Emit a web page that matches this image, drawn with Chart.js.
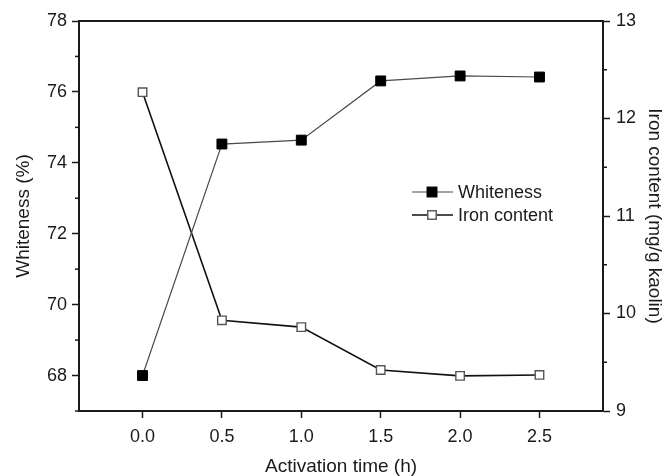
<!DOCTYPE html>
<html><head><meta charset="utf-8">
<script src="https://cdn.jsdelivr.net/npm/chart.js@4/dist/chart.umd.min.js"></script>
<style>html,body{margin:0;padding:0;background:#fff}#wrap{width:666px;height:476px}</style>
</head><body><div id="wrap"><canvas id="c" width="666" height="476"></canvas></div>
<script>
const activationTime = [0, 0.5, 1.0, 1.5, 2.0, 2.5];
const whiteness = [68.0, 74.53, 74.64, 76.31, 76.45, 76.42];
const ironContent = [12.27, 9.93, 9.86, 9.42, 9.36, 9.37];
const xTicks = [0, 0.5, 1.0, 1.5, 2.0, 2.5];
const leftTicks = [68, 70, 72, 74, 76, 78];
const leftMinorTicks = [67, 69, 71, 73, 75, 77];
const rightTicks = [9, 10, 11, 12, 13];
const rightMinorTicks = [9.5, 10.5, 11.5, 12.5];
const seriesNames = ['Whiteness', 'Iron content'];
const axisTitles = {x: 'Activation time (h)', y: 'Whiteness (%)', y1: 'Iron content (mg/g kaolin)'};

const FONT = "'Liberation Sans', Arial, Helvetica, sans-serif";
const INK = '#1a1a1a';

const frameAndMinor = {
  id: 'frameAndMinor',
  afterDraw(chart) {
    const ctx = chart.ctx, a = chart.chartArea;
    ctx.save();
    ctx.strokeStyle = INK;
    ctx.lineWidth = 2;
    ctx.beginPath();
    ctx.moveTo(a.left - 1, a.top);
    ctx.lineTo(a.right + 1, a.top);
    ctx.stroke();
    ctx.lineWidth = 1.5;
    const ys = chart.scales.y, y1 = chart.scales.y1;
    leftMinorTicks.forEach(v => {
      const p = ys.getPixelForValue(v);
      ctx.beginPath(); ctx.moveTo(a.left, p); ctx.lineTo(a.left - 4, p); ctx.stroke();
    });
    rightMinorTicks.forEach(v => {
      const p = y1.getPixelForValue(v);
      ctx.beginPath(); ctx.moveTo(a.right, p); ctx.lineTo(a.right + 4, p); ctx.stroke();
    });
    ctx.restore();
  }
};

const customLegend = {
  id: 'customLegend',
  afterDraw(chart) {
    const ctx = chart.ctx;
    const x0 = 412, x1 = 453, xm = 432, tx = 458;
    const rows = [192, 215];
    ctx.save();
    chart.data.datasets.forEach((ds, i) => {
      const y = rows[i];
      ctx.strokeStyle = ds.borderColor;
      ctx.lineWidth = ds.borderWidth;
      ctx.beginPath(); ctx.moveTo(x0, y); ctx.lineTo(x1, y); ctx.stroke();
      const s = ds.pointRadius * Math.SQRT1_2;
      ctx.fillStyle = ds.pointBackgroundColor;
      ctx.fillRect(xm - s, y - s, 2 * s, 2 * s);
      ctx.strokeStyle = ds.pointBorderColor;
      ctx.lineWidth = ds.pointBorderWidth;
      ctx.strokeRect(xm - s, y - s, 2 * s, 2 * s);
      ctx.fillStyle = INK;
      ctx.font = '18px ' + FONT;
      ctx.textBaseline = 'middle';
      ctx.textAlign = 'left';
      ctx.fillText(ds.label, tx, y + 1);
    });
    ctx.restore();
  }
};

const tickFont = {family: FONT, size: 18};
const titleFont = {family: FONT, size: 19};

new Chart(document.getElementById('c'), {
  type: 'line',
  data: {
    datasets: [
      {
        label: seriesNames[0],
        data: activationTime.map((t, i) => ({x: t, y: whiteness[i]})),
        yAxisID: 'y',
        borderColor: '#4a4a4a', borderWidth: 1.2,
        pointStyle: 'rect', pointRadius: 7, pointBorderWidth: 1,
        pointBackgroundColor: '#000', pointBorderColor: '#000',
        fill: false, tension: 0
      },
      {
        label: seriesNames[1],
        data: activationTime.map((t, i) => ({x: t, y: ironContent[i]})),
        yAxisID: 'y1',
        borderColor: '#111', borderWidth: 1.6,
        pointStyle: 'rect', pointRadius: 6, pointBorderWidth: 1.4,
        pointBackgroundColor: '#fff', pointBorderColor: '#555',
        fill: false, tension: 0
      }
    ]
  },
  options: {
    responsive: false, animation: false, devicePixelRatio: 1,
    layout: {padding: {top: 21, left: 0, right: 0, bottom: 0}},
    plugins: {legend: {display: false}, tooltip: {enabled: false}},
    scales: {
      x: {
        type: 'linear', position: 'bottom', min: -0.4, max: 2.9,
        afterBuildTicks: s => { s.ticks = xTicks.map(v => ({value: v})); },
        afterFit: s => { s.height = 65; },
        ticks: {autoSkip: false, maxRotation: 0, padding: 8, color: INK, font: tickFont, callback: v => Number(v).toFixed(1)},
        grid: {drawOnChartArea: false, drawTicks: true, tickLength: 7, tickColor: INK, tickWidth: 1.5},
        border: {display: true, color: INK, width: 2},
        title: {display: true, text: axisTitles.x, color: INK, font: {family: FONT, size: 19, lineHeight: 1.0}, padding: {top: 0, bottom: 0}}
      },
      y: {
        type: 'linear', position: 'left', min: 67, max: 78,
        afterBuildTicks: s => { s.ticks = leftTicks.map(v => ({value: v})); },
        afterFit: s => { s.width = 79; },
        ticks: {autoSkip: false, padding: 5, color: INK, font: tickFont},
        grid: {drawOnChartArea: false, drawTicks: true, tickLength: 7, tickColor: INK, tickWidth: 1.5},
        border: {display: true, color: INK, width: 2},
        title: {display: true, text: axisTitles.y, color: INK, font: titleFont, padding: {top: 12, bottom: 0}}
      },
      y1: {
        type: 'linear', position: 'right', min: 9, max: 13,
        afterBuildTicks: s => { s.ticks = rightTicks.map(v => ({value: v})); },
        afterFit: s => { s.width = 63; },
        ticks: {autoSkip: false, padding: 6, color: INK, font: tickFont},
        grid: {drawOnChartArea: false, drawTicks: true, tickLength: 7, tickColor: INK, tickWidth: 1.5},
        border: {display: true, color: INK, width: 2},
        title: {display: true, text: axisTitles.y1, color: INK, font: titleFont, padding: {top: 0, bottom: 0}}
      }
    }
  },
  plugins: [frameAndMinor, customLegend]
});
</script>
</body></html>
